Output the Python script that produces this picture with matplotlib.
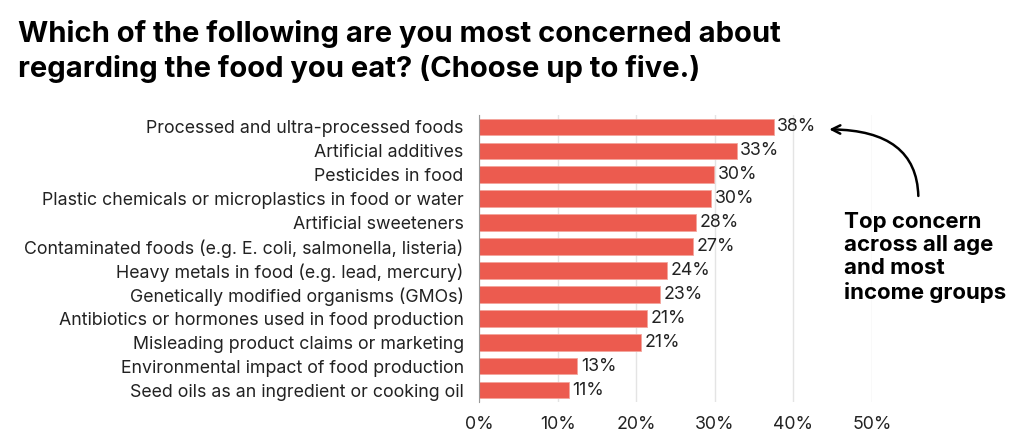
import matplotlib
matplotlib.use('Agg')
import matplotlib.pyplot as plt
import numpy as np

plt.rcParams['font.family'] = ['Inter', 'DejaVu Sans']

# survey data
categories = ['Processed and ultra-processed foods',
              'Artificial additives',
              'Pesticides in food',
              'Plastic chemicals or microplastics in food or water',
              'Artificial sweeteners',
              'Contaminated foods (e.g. E. coli, salmonella, listeria)',
              'Heavy metals in food (e.g. lead, mercury)',
              'Genetically modified organisms (GMOs)',
              'Antibiotics or hormones used in food production',
              'Misleading product claims or marketing',
              'Environmental impact of food production',
              'Seed oils as an ingredient or cooking oil']
values = [37.5, 32.8, 29.9, 29.5, 27.6, 27.2, 23.9, 23.0, 21.4, 20.6, 12.5, 11.4]
value_labels = ['38%', '33%', '30%', '30%', '28%', '27%', '24%', '23%', '21%', '21%', '13%', '11%']
xticks = [0, 10, 20, 30, 40, 50]
xtick_labels = ['0%', '10%', '20%', '30%', '40%', '50%']

bar_color = '#EC5B4F'
txt_color = '#222222'

fig = plt.figure(figsize=(10.24, 4.45), dpi=100)
ax = fig.add_axes([479/1024, 1-402/445, 393/1024, 287/445])

y = np.arange(len(categories))
ax.barh(y, values, height=0.7, color=bar_color, edgecolor='#F3A49C', linewidth=0.6, zorder=3)
for yi, v, lab in zip(y, values, value_labels):
    ax.text(v + 0.45, yi, lab, va='center', ha='left', fontsize=12.8, color=txt_color)

ax.set_ylim(len(categories) - 0.5, -0.5)
ax.set_xlim(0, 50)
ax.set_yticks(y)
ax.set_yticklabels(categories, fontsize=12.8, color=txt_color)
ax.set_xticks(xticks)
ax.set_xticklabels(xtick_labels, fontsize=12.8, color=txt_color)
ax.tick_params(axis='both', length=0)
ax.tick_params(axis='y', pad=11)
ax.tick_params(axis='x', pad=10)
ax.grid(axis='x', color='#e4e4e4', linewidth=1, zorder=0)
for s in ['top', 'right', 'bottom']:
    ax.spines[s].set_visible(False)
ax.spines['left'].set_color('#999999')
ax.spines['left'].set_zorder(4)

fig.text(18/1024, 1-20/445, 'Which of the following are you most concerned about\nregarding the food you eat? (Choose up to five.)',
         fontsize=21, fontweight='bold', va='top', ha='left', color='black', linespacing=1.3)

# callout
ax.annotate('', xy=(44.2, 0.1), xytext=(55.9, 3.0),
            arrowprops=dict(arrowstyle='->', color='black', lw=1.8,
                            connectionstyle='angle3,angleA=90,angleB=0', mutation_scale=15),
            annotation_clip=False)
ax.text(46.5, 3.55, 'Top concern\nacross all age\nand most\nincome groups', fontsize=16,
        fontweight='bold', va='top', ha='left', color='black', linespacing=1.2,
        clip_on=False)

fig.savefig('out.png', dpi=100)
